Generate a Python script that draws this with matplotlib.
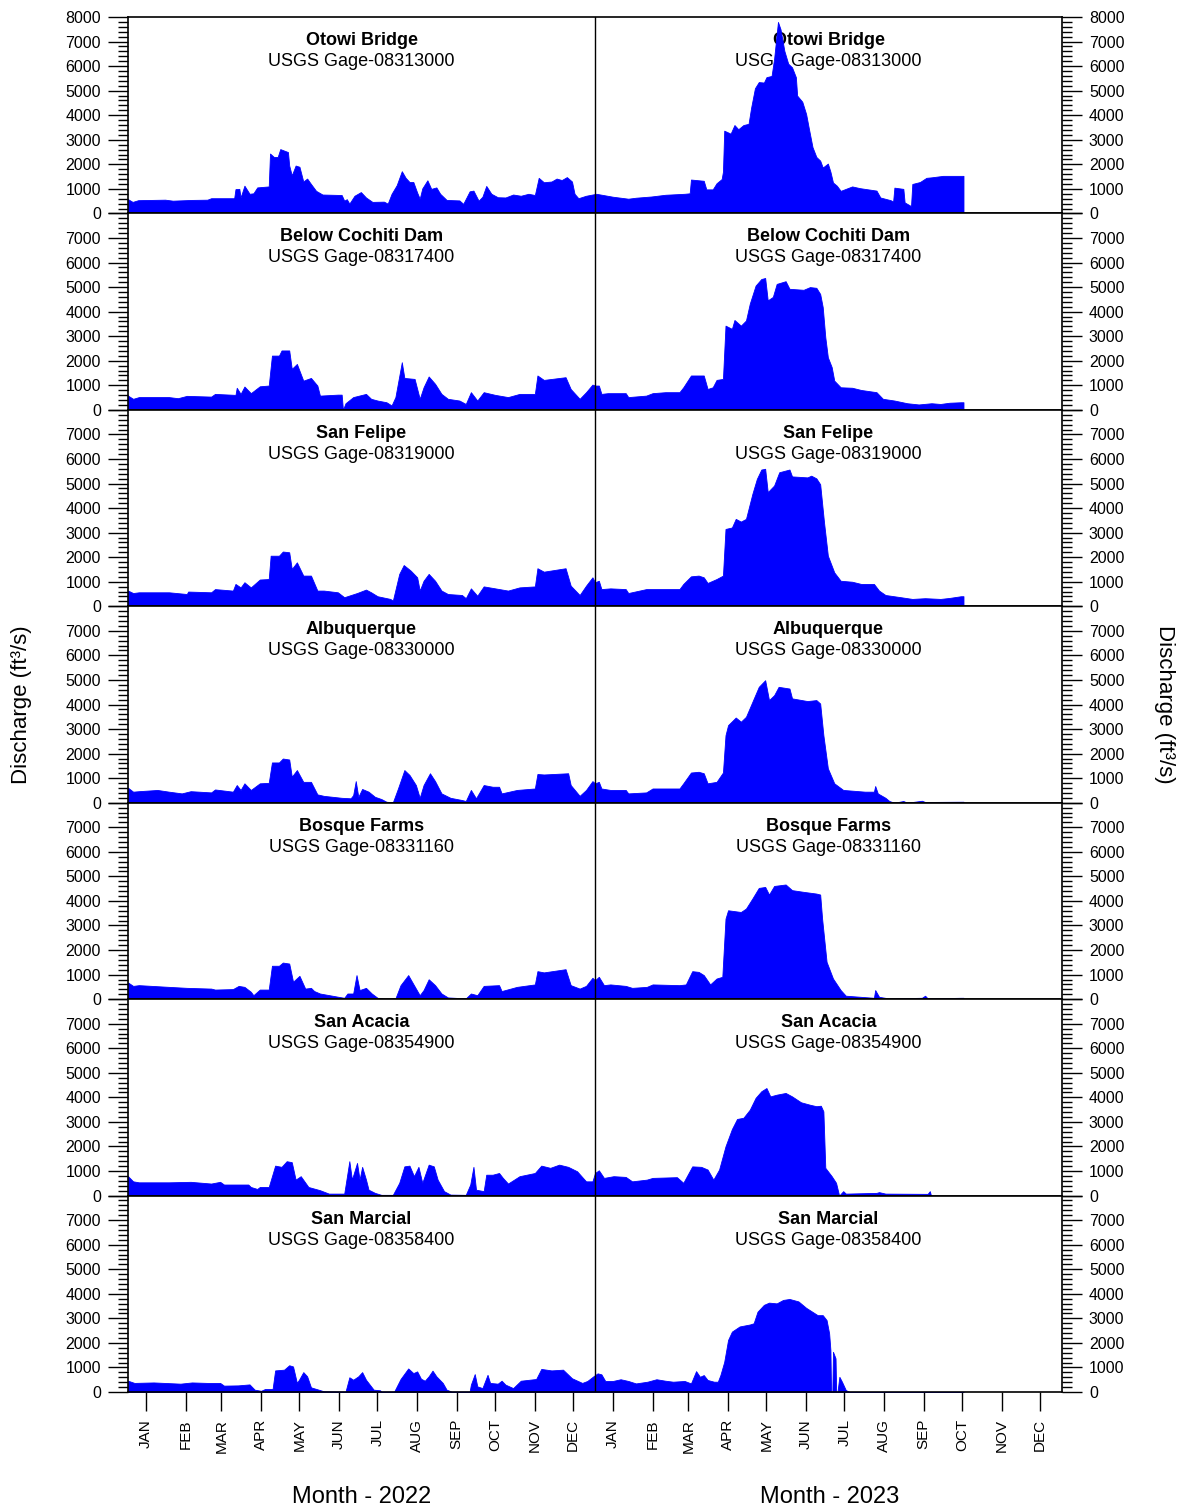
import datetime as dt
import numpy as np
import matplotlib
matplotlib.use("Agg")
import matplotlib.pyplot as plt
from matplotlib.ticker import MultipleLocator, FixedLocator, FixedFormatter

plt.rcParams['font.family'] = ['Liberation Sans', 'DejaVu Sans']

# ---------------- data (day offset from 2022-01-01, discharge ft3/s) ----------------
station_names = ["Otowi Bridge", "Below Cochiti Dam", "San Felipe", "Albuquerque",
                 "Bosque Farms", "San Acacia", "San Marcial"]
gage_ids = ["08313000", "08317400", "08319000", "08330000", "08331160", "08354900", "08358400"]

otowi_day = [0, 3.6, 8, 29, 35, 50, 62, 65, 83, 84, 87, 88, 91, 95, 98, 101, 110, 111, 114, 117,
             119, 125, 126, 128, 131, 134, 137, 140, 143, 147, 152, 167, 169, 171, 173, 177, 182, 186, 191, 200,
             203, 206, 210, 214, 217, 220, 223, 226, 228, 230, 234, 237, 241, 244, 249, 259, 262, 267, 270, 274,
             277, 280, 284, 289, 295, 301, 307, 313, 318, 321, 325, 331, 335, 339, 343, 347, 349, 352, 358, 366,
             379, 391, 397, 409, 420, 435, 439, 440, 450, 452, 457, 460, 464, 465, 466, 471, 474, 477, 481, 485,
             487, 490, 493, 497, 499, 503, 505, 507, 508, 510, 513, 516, 519, 522, 523, 527, 530, 532, 535, 538,
             541, 543, 547, 549, 551, 554, 557, 566, 572, 585, 588, 596, 598, 599, 606, 607, 612, 613, 619, 624,
             628, 637, 646, 653]
otowi_cfs = [580, 470, 540, 560, 520, 550, 560, 620, 620, 990, 1000, 650, 1130, 800, 820, 1060, 1100, 2440, 2300, 2300,
             2620, 2500, 1950, 1550, 1950, 1900, 1300, 1420, 1200, 920, 770, 750, 520, 580, 400, 720, 870, 650, 470, 480,
             400, 800, 1150, 1720, 1450, 1280, 1280, 850, 600, 1020, 1350, 1000, 1060, 800, 550, 530, 390, 900, 930, 520,
             680, 1120, 800, 660, 650, 770, 720, 800, 750, 1450, 1270, 1300, 1420, 1360, 1480, 1300, 800, 620, 720, 800,
             680, 600, 640, 690, 760, 800, 820, 1380, 1330, 980, 980, 1230, 1400, 1700, 3370, 3250, 3600, 3430, 3600, 3650,
             4300, 5100, 5350, 5330, 5550, 5600, 6300, 7300, 7800, 7500, 6620, 6100, 5950, 5550, 4800, 4550, 4050, 3500, 2700, 2300,
             2150, 1870, 2030, 1700, 1260, 1130, 920, 1100, 1030, 930, 650, 540, 480, 1050, 1000, 450, 300, 1200, 1280, 1450,
             1470, 1530, 1530, 1530]

cochiti_day = [0, 4, 8.5, 32, 39, 46, 65, 68, 84, 85, 88, 91, 96, 103, 110, 112.5, 118, 120, 126, 128,
               132, 137, 143, 148, 150, 164, 167, 168, 170, 176, 186, 190, 195, 202, 206, 209, 214, 216, 224, 228,
               231, 235, 240, 245, 250, 259, 264, 268, 273, 278, 287, 297, 306, 318, 320, 325, 342, 346, 353, 358,
               363, 365, 368, 370, 375, 382, 389, 391, 405, 410, 420, 427, 431, 434, 440, 443, 450, 453, 457, 460,
               465, 467, 472, 474, 479, 483, 486, 490.5, 495, 498, 500, 504, 507, 514, 517, 528, 533, 538, 541, 543,
               545, 547, 550, 552, 557, 566, 573, 585, 590, 599, 609, 618, 628, 635, 642, 651, 653]
cochiti_cfs = [580, 450, 520, 520, 475, 570, 540, 650, 610, 900, 650, 950, 680, 960, 990, 2210, 2210, 2420, 2420, 1670,
               1870, 1190, 1300, 990, 580, 620, 620, 0, 270, 520, 650, 450, 380, 310, 180, 520, 1940, 1300, 1260, 450,
               920, 1360, 1060, 650, 450, 380, 240, 720, 380, 720, 610, 520, 650, 650, 1400, 1220, 1330, 850, 450, 720,
               1030, 990, 990, 650, 680, 680, 680, 520, 580, 680, 720, 720, 720, 920, 1400, 1400, 1400, 850, 920, 1220,
               1260, 3430, 3300, 3660, 3430, 3640, 4330, 5060, 5330, 5370, 4460, 4600, 5130, 5240, 4930, 4890, 5000, 4970, 4720, 4180,
               2960, 2140, 1740, 1190, 920, 900, 810, 720, 450, 380, 270, 220, 270, 240, 290, 310, 310]

felipe_day = [0, 4, 8.5, 32, 46, 47, 65, 68, 82, 84, 88, 91, 96, 103, 110, 111.5, 118, 121, 126, 128,
              132, 137, 143, 148, 153, 164, 169, 179, 186, 190, 195, 205, 207, 212, 215.5, 221, 226, 228, 231, 235,
              240, 245, 250, 261, 264, 268, 273, 278, 287, 297, 306, 318, 320, 325, 342, 346, 353, 358, 363, 365,
              368, 370, 377, 389, 391, 405, 420, 431, 434, 440, 446, 450, 453, 460, 465, 467, 472, 475, 479, 483,
              488, 491.5, 495, 498, 500, 505, 509, 517, 519, 531, 534, 538, 541, 544, 547, 552, 557, 566, 573, 583,
              587, 592, 604, 613, 623, 635, 642, 651, 653]
felipe_cfs = [640, 540, 570, 570, 500, 600, 570, 700, 640, 910, 770, 980, 770, 1090, 1110, 2060, 2060, 2230, 2200, 1520,
              1790, 1250, 1250, 640, 640, 570, 370, 540, 680, 570, 410, 300, 230, 1320, 1680, 1450, 1180, 640, 1040, 1320,
              1040, 640, 500, 460, 330, 730, 430, 810, 730, 640, 770, 810, 1550, 1410, 1550, 840, 460, 840, 1180, 980,
              1040, 700, 730, 700, 540, 700, 700, 700, 910, 1220, 1250, 1180, 950, 1110, 1250, 3150, 3210, 3560, 3450, 3560,
              4580, 5190, 5570, 5600, 4650, 4920, 5460, 5570, 5290, 5250, 5320, 5210, 4970, 3420, 2060, 1380, 1040, 1000, 910, 910,
              640, 460, 370, 300, 330, 300, 340, 410, 410]

abq_day = [0, 4, 8.5, 23, 32, 42, 49, 65, 68, 82, 85, 88, 91, 96, 103, 110, 112.5, 118, 121, 126,
           128, 132, 137, 143, 148, 153, 167, 174, 176, 178, 180, 183, 188, 193, 198, 202, 207, 211, 216, 220,
           225, 228, 231, 236, 240, 245, 252, 261, 264, 268, 272, 278, 285, 290, 292, 304, 318, 320, 325, 344,
           346, 353, 358, 363, 365,
           368, 370, 377, 389, 391, 405, 410, 431, 434, 440, 446, 450, 453, 460, 465, 467, 469, 475, 479, 483,
           488, 493, 498, 501, 505, 508.5, 517, 519, 531, 538, 541, 543.5, 547, 552, 559, 576, 583, 584, 586, 592,
           595, 599, 606, 609, 620.5, 623, 651, 653]
abq_cfs = [610, 450, 470, 520, 450, 380, 470, 420, 540, 450, 720, 520, 790, 520, 790, 810, 1640, 1640, 1800, 1760,
           1060, 1330, 850, 850, 340, 280, 200, 180, 310, 880, 240, 560, 450, 240, 150, 40, 15, 580, 1330, 1130,
           720, 200, 720, 1200, 880, 380, 200, 110, 70, 520, 180, 720, 650, 650, 380, 520, 580, 1170, 1150, 1200,
           720, 280, 520, 880, 790,
           850, 580, 520, 520, 380, 420, 580, 580, 790, 1230, 1260, 1200, 790, 850, 1230, 2750, 3160, 3470, 3300, 3500,
           4110, 4720, 4990, 4180, 4380, 4720, 4650, 4250, 4140, 4180, 4040, 2750, 1400, 790, 520, 450, 450, 680, 380, 200,
           70, 0, 70, 0, 80, 30, 40, 40]

bosque_day = [0, 4, 8.5, 32, 46, 65, 68, 82, 86.5, 91, 96, 98, 103, 110, 112.5, 118, 121, 126, 129, 134,
              138.5, 143, 145.5, 150, 164.5, 169, 171.5, 176, 178.6, 181, 186, 190.5, 195, 202, 209, 213, 219, 223.5, 228, 231,
              235, 240, 245, 250, 264, 268, 273, 278, 290, 292, 304, 318, 320, 325, 342, 346, 353, 358, 363, 365,
              368, 372, 377, 389, 394, 405.5, 410, 431, 436, 441, 446, 450, 455, 460, 464.5, 467, 469, 479, 483, 488,
              493, 498, 501, 505, 514, 519, 528, 538, 541, 542.5, 546, 551, 557, 561, 583, 584, 587, 594.5, 620.5, 623,
              625, 651, 653]
bosque_cfs = [680, 540, 570, 500, 460, 430, 390, 410, 540, 500, 300, 160, 390, 390, 1360, 1360, 1490, 1450, 710, 950,
              430, 460, 330, 230, 95, 55, 230, 230, 980, 370, 460, 230, 55, 0, 30, 570, 980, 570, 160, 370,
              810, 570, 230, 70, 30, 230, 160, 540, 570, 330, 500, 600, 1140, 1090, 1220, 570, 430, 540, 870, 770,
              910, 570, 600, 540, 460, 500, 600, 570, 600, 1140, 1110, 980, 600, 840, 910, 3280, 3620, 3550, 3690, 4100,
              4530, 4570, 4260, 4610, 4670, 4440, 4370, 4300, 4260, 3280, 1520, 840, 370, 140, 55, 370, 95, 30, 55, 140,
              30, 55, 55]

acacia_day = [0, 4, 8.5, 32, 49, 65, 72, 75, 94, 96, 101, 103, 110, 115, 120, 124, 128, 131, 135, 141,
              150, 157, 169, 173, 175, 179, 181, 183, 186, 188, 193, 198, 207, 212, 216, 220, 223.5, 227, 230, 235,
              239, 242, 247, 252, 264, 267.5, 270, 272, 278, 280, 285, 290, 293, 297, 306, 318, 323, 330, 337, 344,
              351, 358, 363, 365,
              368, 372, 379.5, 389, 394, 405.5, 410, 429, 434, 441, 448, 453, 457.5, 462, 467, 472, 476, 481, 486, 490.5,
              495, 499, 502, 507, 514, 519, 526, 533, 538, 541.5, 543.5, 545, 550, 553.4, 555.8, 559, 561, 585, 587, 592,
              625, 626.7, 627.6]
acacia_cfs = [790, 580, 540, 540, 560, 490, 560, 450, 450, 350, 270, 350, 350, 1220, 1170, 1400, 1360, 650, 790, 350,
              220, 80, 80, 1400, 650, 1330, 650, 1170, 650, 240, 110, 30, 30, 520, 1190, 1220, 790, 1170, 520, 1260,
              1190, 650, 180, 40, 30, 450, 1170, 240, 180, 850, 850, 920, 720, 490, 790, 920, 1220, 1130, 1260, 1170,
              990, 580, 580, 920,
              1030, 720, 790, 760, 580, 650, 720, 750, 520, 1190, 1170, 1060, 650, 1060, 2010, 2710, 3120, 3170, 3500, 3980,
              4250, 4380, 4040, 4110, 4180, 4040, 3800, 3700, 3640, 3660, 3430, 1130, 790, 520, 0, 180, 80, 110, 140, 80,
              70, 180, 0]

marcial_day = [0, 5, 20, 41, 50, 62, 72, 75, 86, 95, 99, 104, 107, 113, 115, 122, 126, 129, 132, 134,
               137, 140, 143, 149, 153, 170, 173, 176, 180, 183, 186, 192, 197, 198, 208, 213, 219, 223, 226, 229,
               232, 235, 238, 241, 246, 249, 253, 267, 268, 271, 273, 277, 281, 283, 289, 292, 295, 301, 307, 319,
               323, 331, 340, 347, 355, 359, 364,
               367, 370, 373, 379, 385, 391, 397, 406, 413, 420, 426, 435, 440, 444, 447, 450, 453, 458, 461, 463,
               466, 469, 472, 478, 486, 489, 492, 497, 501, 507, 512, 517, 524, 530, 539, 543, 546, 548, 549, 549.5,
               550.5, 551, 553, 553.5, 554.5, 556, 558, 561, 564, 653]
marcial_cfs = [460, 370, 390, 340, 390, 370, 370, 260, 270, 310, 95, 50, 120, 120, 880, 910, 1090, 1040, 370, 530,
               810, 640, 190, 95, 30, 15, 600, 500, 640, 810, 500, 95, 70, 15, 15, 530, 960, 770, 840, 540,
               460, 640, 870, 640, 370, 95, 15, 15, 300, 730, 230, 160, 700, 370, 340, 460, 300, 160, 460, 530,
               940, 880, 910, 560, 370, 450, 650,
               760, 720, 450, 450, 520, 450, 350, 420, 520, 460, 420, 450, 350, 850, 620, 690, 490, 420, 420, 690,
               1230, 2120, 2460, 2670, 2750, 2800, 3270, 3550, 3640, 3610, 3750, 3790, 3690, 3430, 3130, 3130, 2930, 2390, 1710, 0,
               0, 1640, 1370, 0, 0, 620, 420, 80, 0, 0]

station_days = [otowi_day, cochiti_day, felipe_day, abq_day, bosque_day, acacia_day, marcial_day]
station_cfs = [otowi_cfs, cochiti_cfs, felipe_cfs, abq_cfs, bosque_cfs, acacia_cfs, marcial_cfs]

month_labels = ["JAN", "FEB", "MAR", "APR", "MAY", "JUN", "JUL", "AUG", "SEP", "OCT", "NOV", "DEC"]
years = [2022, 2023]

# ---------------- figure ----------------
W_PX, H_PX = 1185, 1510
fig = plt.figure(figsize=(W_PX / 100, H_PX / 100), dpi=100)

left_px, right_px = 128, 1062
top_px, panel_h = 17, 196.43
base = dt.date(2022, 1, 1)
year_start = (dt.date(2023, 1, 1) - base).days
x_end = (dt.date(2024, 1, 1) - base).days
month_pos = [(dt.date(y, m, 15) - base).days for y in years for m in range(1, 13)]

for i in range(7):
    y0 = 1 - (top_px + (i + 1) * panel_h) / H_PX
    ax = fig.add_axes([left_px / W_PX, y0, (right_px - left_px) / W_PX, panel_h / H_PX])
    ax.fill_between(station_days[i], 0, station_cfs[i], color='#0000ff', linewidth=0.6,
                    edgecolor='#0000ff', zorder=2)
    ax.axvline(year_start, color='black', lw=1.0, zorder=3)
    ax.set_xlim(0, x_end)
    ax.set_ylim(0, 8000)

    ylabels = [str(v) for v in range(0, 8001, 1000)]
    if i > 0:
        ylabels[-1] = ""
    ax.yaxis.set_major_locator(FixedLocator(list(range(0, 8001, 1000))))
    ax.yaxis.set_major_formatter(FixedFormatter(ylabels))
    ax.yaxis.set_minor_locator(MultipleLocator(200))
    ax.tick_params(axis='y', which='both', direction='out', left=True, right=True,
                   labelleft=True, labelright=True, labelsize=11.5, width=1, pad=5)
    ax.tick_params(axis='y', which='major', length=14.4)
    ax.tick_params(axis='y', which='minor', length=7.2)

    ax.xaxis.set_major_locator(FixedLocator(month_pos))
    if i == 6:
        ax.xaxis.set_major_formatter(FixedFormatter(month_labels * 2))
        ax.tick_params(axis='x', which='major', direction='out', length=13.5, width=1,
                       labelsize=11, labelrotation=90, pad=6)
    else:
        ax.tick_params(axis='x', which='both', length=0, labelbottom=False)
    ax.xaxis.set_minor_locator(FixedLocator([]))

    for s in ax.spines.values():
        s.set_linewidth(1.2)

    for xc in (0.25, 0.75):
        ax.text(xc, 1 - 23.5 / panel_h, station_names[i], transform=ax.transAxes,
                ha='center', va='center', fontsize=13, fontweight='bold', zorder=1)
        ax.text(xc, 1 - 44.5 / panel_h, "USGS Gage-" + gage_ids[i], transform=ax.transAxes,
                ha='center', va='center', fontsize=13, zorder=1)

fig.text(362 / W_PX, 1 - 1497 / H_PX, "Month - %d" % years[0], ha='center', va='center', fontsize=17)
fig.text(829.5 / W_PX, 1 - 1497 / H_PX, "Month - %d" % years[1], ha='center', va='center', fontsize=17)
fig.text(22 / W_PX, 1 - 704.5 / H_PX, "Discharge (ft\u00b3/s)", rotation=90,
         ha='center', va='center', fontsize=16)
fig.text(1165 / W_PX, 1 - 704.5 / H_PX, "Discharge (ft\u00b3/s)", rotation=270,
         ha='center', va='center', fontsize=16)

fig.savefig("out.png", dpi=100)
